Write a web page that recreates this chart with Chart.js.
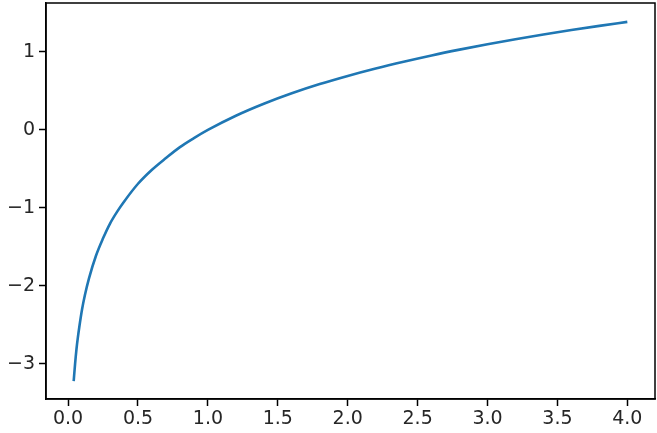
<!DOCTYPE html>
<html>
<head>
<meta charset="utf-8">
<script src="https://cdn.jsdelivr.net/npm/chart.js@4"></script>
<style>
  html, body { margin: 0; padding: 0; background: #fff; }
  canvas { display: block; }
</style>
</head>
<body>
<canvas id="logChart" width="657" height="433"></canvas>
<script>
// values
const xValues = [0.04, 0.05, 0.06, 0.07, 0.08, 0.1, 0.12, 0.15, 0.2, 0.25, 0.3, 0.35, 0.4, 0.5, 0.6, 0.7, 0.8, 0.9,
                 1.0, 1.2, 1.4, 1.6, 1.8, 2.0, 2.2, 2.4, 2.6, 2.8, 3.0, 3.2, 3.4, 3.6, 3.8, 4.0];
const yValues = [-3.22, -3.0, -2.81, -2.66, -2.53, -2.3, -2.12, -1.9, -1.61, -1.39, -1.2, -1.05, -0.92, -0.69, -0.51, -0.36, -0.22, -0.105,
                 0.0, 0.182, 0.336, 0.47, 0.588, 0.693, 0.788, 0.875, 0.956, 1.03, 1.099, 1.163, 1.224, 1.281, 1.335, 1.386];
const xTicks = [0.0, 0.5, 1.0, 1.5, 2.0, 2.5, 3.0, 3.5, 4.0];
const yTicks = [-3, -2, -1, 0, 1];

const points = xValues.map((x, i) => ({ x: x, y: yValues[i] }));
const fmtMinus = v => (v < 0 ? '\u2212' + Math.abs(v) : String(v));

// frame around the plot area (matplotlib style spines)
const framePlugin = {
    id: 'frame',
    afterDraw(chart) {
        const a = chart.chartArea;
        const c = chart.ctx;
        c.save();
        c.strokeStyle = '#000';
        c.lineWidth = 1.5;
        c.strokeRect(a.left, a.top, a.right - a.left, a.bottom - a.top);
        c.restore();
    }
};

const tickFont = { family: 'DejaVu Sans', size: 19 };

new Chart(document.getElementById('logChart').getContext('2d'), {
    type: 'scatter',
    data: {
        datasets: [{
            data: points,
            showLine: true,
            borderColor: '#1f77b4',
            borderWidth: 2.6,
            pointRadius: 0,
            cubicInterpolationMode: 'monotone',
            fill: false
        }]
    },
    options: {
        responsive: false,
        animation: false,
        layout: { padding: { top: 3, right: 2, left: 0, bottom: 0 } },
        plugins: { legend: { display: false }, tooltip: { enabled: false } },
        scales: {
            x: {
                type: 'linear',
                min: -0.158,
                max: 4.198,
                afterBuildTicks: s => { s.ticks = xTicks.map(v => ({ value: v })); },
                afterFit: s => { s.height = 34; s.paddingLeft = 0; s.paddingRight = 0; },
                ticks: {
                    color: '#262626',
                    font: tickFont,
                    padding: 2,
                    maxRotation: 0,
                    callback: v => v.toFixed(1)
                },
                grid: { drawOnChartArea: false, drawTicks: true, tickLength: 7, tickWidth: 1.5, tickColor: '#000' },
                border: { display: true, color: '#000', width: 1.5 }
            },
            y: {
                type: 'linear',
                min: -3.45,
                max: 1.628,
                afterBuildTicks: s => { s.ticks = yTicks.map(v => ({ value: v })); },
                afterFit: s => { s.width = 46; s.paddingTop = 0; s.paddingBottom = 0; },
                ticks: {
                    color: '#262626',
                    font: tickFont,
                    padding: 4,
                    callback: v => fmtMinus(v)
                },
                grid: { drawOnChartArea: false, drawTicks: true, tickLength: 7, tickWidth: 1.5, tickColor: '#000' },
                border: { display: true, color: '#000', width: 1.5 }
            }
        }
    },
    plugins: [framePlugin]
});
</script>
</body>
</html>
